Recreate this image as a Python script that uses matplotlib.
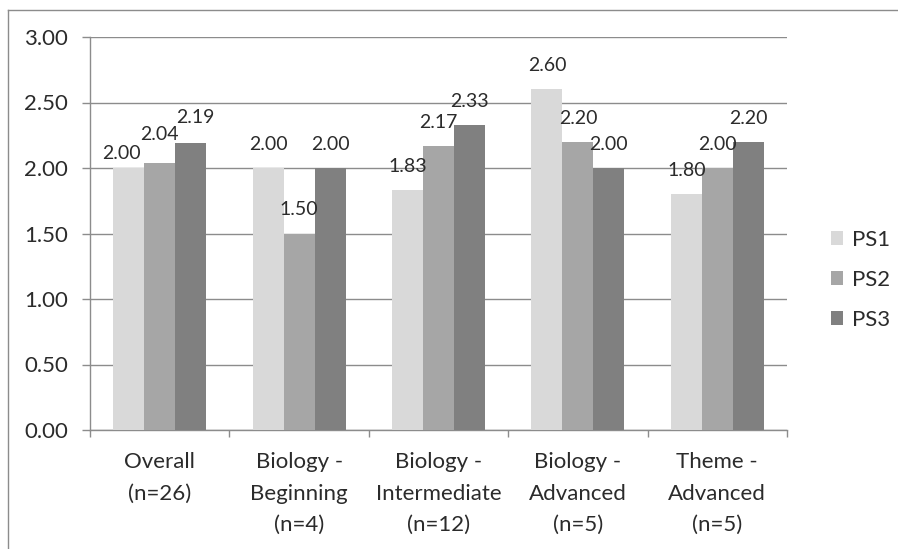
import numpy as np
import matplotlib
matplotlib.use("Agg")
from matplotlib import pyplot as plt
from matplotlib.lines import Line2D
from matplotlib.ticker import FormatStrFormatter

categories = ["Overall\n(n=26)", "Biology -\nBeginning\n(n=4)", "Biology -\nIntermediate\n(n=12)",
              "Biology -\nAdvanced\n(n=5)", "Theme -\nAdvanced\n(n=5)"]
series_names = ["PS1", "PS2", "PS3"]
ps1 = [2.00, 2.00, 1.83, 2.60, 1.80]
ps2 = [2.04, 1.50, 2.17, 2.20, 2.00]
ps3 = [2.19, 2.00, 2.33, 2.00, 2.20]
colors = ["#d9d9d9", "#a6a6a6", "#808080"]

plt.rcParams['font.family'] = ['Lato', 'DejaVu Sans']
txt = "#2b2b2b"
grid = "#8c8c8c"

# label offsets in points (dx, dy above bar top to baseline); the first group is staggered like Excel does
label_shift = {(0, 0): (-5, 6.5), (1, 0): (0, 16.5), (2, 0): (3, 14.4)}

fig = plt.figure(figsize=(8.98, 5.49), dpi=100)
ax = fig.add_axes([90/898, 1 - 430/549, 697/898, 393/549])

x = np.arange(len(categories))
w = 1 / 4.5
for i, (vals, c, name) in enumerate(zip([ps1, ps2, ps3], colors, series_names)):
    pos = x + (i - 1) * w
    bars = ax.bar(pos, vals, width=w, color=c, label=name, zorder=3)
    for j, (b, v) in enumerate(zip(bars, vals)):
        dx, dy = label_shift.get((i, j), (0, 13))
        ax.annotate("%.2f" % v, (b.get_x() + b.get_width()/2, v), xytext=(dx, dy),
                    textcoords="offset points", ha="center", va="baseline",
                    fontsize=14, color=txt, zorder=4)

ax.set_xlim(-0.5, len(categories) - 0.5)
ax.set_ylim(0, 3)
ax.set_yticks(np.arange(0, 3.01, 0.5))
ax.yaxis.set_major_formatter(FormatStrFormatter('%.2f'))
ax.yaxis.grid(True, color=grid, linewidth=1, zorder=0)

ax.set_xticks(np.arange(-0.5, len(categories)), labels=[""] * (len(categories) + 1))
ax.set_xticks(x, labels=categories, minor=True)
for lab in ax.get_xticklabels(minor=True):
    lab.set_linespacing(1.72)
ax.tick_params(axis='x', which='major', length=5, color=grid, width=1)
ax.tick_params(axis='x', which='minor', length=0, pad=16, labelsize=16, labelcolor=txt)
ax.tick_params(axis='y', length=6, color=grid, width=1, labelsize=16, labelcolor=txt, pad=10)

for s in ["top", "right"]:
    ax.spines[s].set_visible(False)
for s in ["left", "bottom"]:
    ax.spines[s].set_color(grid)
    ax.spines[s].set_linewidth(1)

ax.legend(loc="center left", bbox_to_anchor=(820/898, 1 - 280/549), bbox_transform=fig.transFigure,
          frameon=False, fontsize=16, labelcolor=txt, handlelength=0.55, handleheight=0.55,
          handletextpad=0.4, labelspacing=0.9, borderpad=0)

# chart border (image is cropped on right and bottom)
fig.add_artist(Line2D([8/898, 1], [1 - 10/549, 1 - 10/549], color=grid, linewidth=1, transform=fig.transFigure))
fig.add_artist(Line2D([8/898, 8/898], [0, 1 - 10/549], color=grid, linewidth=1, transform=fig.transFigure))

fig.savefig("out.png", dpi=100)
